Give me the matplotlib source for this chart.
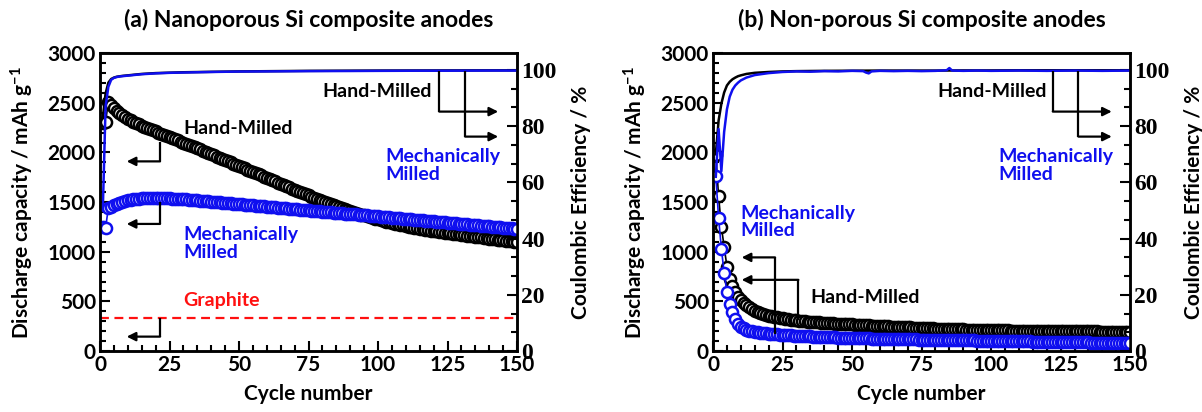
import matplotlib
matplotlib.use("Agg")
import matplotlib.pyplot as plt
from matplotlib.ticker import MultipleLocator, AutoMinorLocator

# ---- data ----
cycles = list(range(1, 151))

# (a) nanoporous Si, discharge capacity (mAh/g)
cap_hand_a = [2300, 2310, 2510, 2480, 2450, 2420, 2395, 2375, 2355, 2340,
              2325, 2310, 2296, 2283, 2270, 2258, 2246, 2234, 2222, 2211,
              2200, 2189, 2178, 2167, 2156, 2145, 2133, 2122, 2110, 2099,
              2087, 2076, 2064, 2053, 2041, 2030, 2018, 2006, 1995, 1983,
              1971, 1959, 1947, 1936, 1924, 1912, 1900, 1888, 1876, 1864,
              1852, 1840, 1828, 1816, 1804, 1792, 1780, 1768, 1756, 1744,
              1732, 1720, 1708, 1696, 1684, 1672, 1660, 1648, 1636, 1624,
              1613, 1601, 1589, 1578, 1567, 1556, 1545, 1534, 1523, 1512,
              1501, 1491, 1480, 1470, 1460, 1450, 1440, 1430, 1420, 1410,
              1401, 1392, 1383, 1374, 1365, 1357, 1349, 1341, 1333, 1325,
              1318, 1311, 1304, 1297, 1290, 1284, 1278, 1272, 1266, 1260,
              1254, 1248, 1243, 1238, 1233, 1228, 1223, 1218, 1213, 1208,
              1204, 1200, 1196, 1192, 1188, 1184, 1180, 1177, 1174, 1170,
              1166, 1162, 1158, 1155, 1151, 1147, 1144, 1140, 1137, 1133,
              1130, 1126, 1123, 1119, 1116, 1112, 1109, 1105, 1102, 1098]
cap_mech_a = [1250, 1240, 1440, 1455, 1470, 1482, 1493, 1502, 1510, 1517,
              1523, 1528, 1532, 1535, 1537, 1539, 1540, 1541, 1541, 1541,
              1540, 1540, 1539, 1538, 1537, 1536, 1534, 1533, 1531, 1530,
              1528, 1525, 1522, 1520, 1518, 1515, 1512, 1510, 1508, 1505,
              1502, 1500, 1498, 1495, 1492, 1490, 1488, 1485, 1482, 1480,
              1478, 1475, 1472, 1470, 1468, 1465, 1462, 1460, 1458, 1455,
              1452, 1450, 1448, 1445, 1442, 1440, 1438, 1435, 1432, 1430,
              1428, 1425, 1422, 1420, 1418, 1415, 1412, 1410, 1408, 1405,
              1402, 1400, 1398, 1395, 1392, 1390, 1388, 1385, 1382, 1380,
              1378, 1375, 1372, 1370, 1368, 1365, 1362, 1360, 1358, 1355,
              1352, 1350, 1348, 1345, 1342, 1340, 1338, 1335, 1332, 1330,
              1328, 1325, 1322, 1320, 1318, 1315, 1312, 1310, 1308, 1305,
              1302, 1300, 1298, 1295, 1292, 1290, 1288, 1285, 1282, 1280,
              1278, 1275, 1272, 1270, 1268, 1265, 1262, 1260, 1258, 1255,
              1252, 1250, 1248, 1245, 1242, 1240, 1238, 1235, 1232, 1230]
graphite_capacity = 335

# (a) coulombic efficiency (%)
ce_hand_a_cyc = [1, 2, 3, 4, 5, 6, 8, 10, 15, 20, 30, 50, 75, 100, 125, 150]
ce_hand_a = [83, 91.6, 95.5, 96.8, 97.3, 97.6, 97.9, 98.1, 98.6, 98.9,
             99.2, 99.5, 99.7, 99.8, 99.85, 99.9]
ce_mech_a_cyc = [1, 2, 3, 4, 5, 6, 7, 8, 10, 12, 15, 20, 25, 30, 40, 50,
                 60, 75, 90, 100, 115, 125, 140, 150]
ce_mech_a = [50, 87, 94, 96.5, 97.2, 97.5, 97.7, 97.8, 98.0, 98.2, 98.5,
             98.8, 99.0, 99.1, 99.3, 99.45, 99.5, 99.6, 99.65, 99.7, 99.75,
             99.75, 99.8, 99.8]

# (b) non-porous Si, discharge capacity (mAh/g)
cap_hand_b = [1970, 1560, 1250, 1050, 850, 730, 650, 590, 545, 510,
              482, 460, 440, 423, 408, 395, 384, 374, 365, 357,
              350, 344, 338, 333, 328, 323, 319, 315, 311, 308,
              305, 302, 299, 297, 295, 293, 291, 289, 287, 285,
              283, 281, 279, 277, 276, 274, 273, 271, 270, 268,
              266, 264, 263, 261, 259, 258, 256, 255, 253, 252,
              250, 249, 247, 246, 245, 243, 242, 241, 239, 238,
              237, 236, 235, 233, 232, 231, 230, 229, 227, 226,
              225, 224, 223, 222, 221, 220, 219, 219, 218, 217,
              216, 215, 215, 214, 213, 212, 212, 211, 210, 210,
              209, 209, 208, 208, 207, 207, 206, 206, 205, 205,
              205, 204, 204, 203, 203, 203, 202, 202, 201, 201,
              201, 200, 200, 200, 200, 199, 199, 199, 199, 198,
              198, 198, 198, 197, 197, 197, 197, 197, 196, 196,
              196, 196, 196, 195, 195, 195, 195, 195, 195, 195]
cap_mech_b = [1760, 1340, 1030, 790, 590, 470, 390, 320, 275, 245,
              228, 215, 205, 198, 192, 187, 183, 180, 177, 174,
              171, 169, 167, 165, 163, 161, 159, 157, 155, 153,
              152, 151, 149, 148, 147, 146, 145, 143, 142, 141,
              140, 139, 138, 137, 136, 135, 134, 133, 132, 131,
              130, 130, 129, 128, 128, 127, 126, 126, 125, 124,
              124, 123, 123, 122, 121, 121, 120, 120, 119, 118,
              118, 117, 117, 116, 116, 115, 115, 114, 114, 113,
              113, 112, 112, 111, 111, 110, 110, 109, 109, 108,
              107, 107, 106, 106, 105, 105, 104, 104, 103, 103,
              102, 102, 101, 101, 100, 100, 99, 99, 98, 98,
              97, 97, 96, 96, 95, 95, 94, 94, 93, 93,
              92, 92, 91, 91, 90, 90, 90, 89, 89, 88,
              88, 87, 87, 86, 86, 85, 85, 84, 84, 84,
              83, 83, 82, 82, 81, 81, 81, 80, 80, 80]

# (b) coulombic efficiency (%)
ce_hand_b_cyc = [1, 2, 3, 4, 5, 6, 7, 8, 9, 10, 12, 15, 20, 25, 30, 40, 50,
                 60, 70, 80, 90, 100, 110, 120, 130, 140, 150]
ce_hand_b = [70, 82, 88, 92, 94.5, 95.8, 96.7, 97.3, 97.8, 98.1, 98.6,
             99.0, 99.3, 99.5, 99.6, 99.7, 99.75, 99.8, 99.8, 99.8, 99.85,
             99.85, 99.9, 99.9, 99.9, 99.9, 99.9]
ce_mech_b_cyc = [1, 2, 3, 4, 5, 6, 7, 8, 9, 10, 12, 15, 20, 25, 30, 35, 40,
                 45, 50, 54, 55, 56, 57, 60, 65, 70, 75, 80, 84, 85, 86, 90,
                 95, 100, 110, 120, 130, 140, 150]
ce_mech_b = [62, 79, 64, 78, 86, 90.5, 93, 94.5, 95.5, 96.3, 97.3, 98.2,
             98.9, 99.3, 99.5, 99.4, 99.6, 99.5, 99.7, 99.6, 99.1, 98.8,
             99.5, 99.7, 99.6, 99.7, 99.6, 99.7, 99.9, 100.7, 99.8, 99.7,
             99.8, 99.7, 99.8, 99.7, 99.8, 99.7, 99.8]

BLUE = "#0f0fef"
RED = "#ff1010"

plt.rcParams["font.family"] = ["Lato", "DejaVu Sans"]
plt.rcParams["font.weight"] = "bold"
plt.rcParams["mathtext.fontset"] = "custom"
plt.rcParams["mathtext.bf"] = "Lato:bold"
plt.rcParams["mathtext.rm"] = "Lato:bold"
plt.rcParams["mathtext.default"] = "bf"

fig = plt.figure(figsize=(12.02, 4.12), dpi=100)
ax_a = fig.add_axes([0.0832, 0.148, 0.347, 0.723])
ax_b = fig.add_axes([0.5932, 0.148, 0.347, 0.723])


def style_axes(ax, title):
    ax2 = ax.twinx()
    ax.set_xlim(0, 150)
    ax.set_ylim(0, 3000)
    ax2.set_ylim(0, 106)
    ax.xaxis.set_major_locator(MultipleLocator(25))
    ax.xaxis.set_minor_locator(MultipleLocator(5))
    ax.yaxis.set_major_locator(MultipleLocator(500))
    ax.yaxis.set_minor_locator(MultipleLocator(100))
    ax2.yaxis.set_major_locator(MultipleLocator(20))
    ax2.yaxis.set_minor_locator(AutoMinorLocator(3))
    for a in (ax, ax2):
        a.tick_params(which="both", direction="in", width=1.5, pad=3)
        a.tick_params(which="major", length=7)
        a.tick_params(which="minor", length=4)
        for s in a.spines.values():
            s.set_linewidth(1.8)
    ax.tick_params(labelsize=15, top=False, right=False)
    ax2.tick_params(labelsize=17)
    for lbl in ax.get_xticklabels() + ax.get_yticklabels():
        lbl.set_fontweight("bold")
    for lbl in ax2.get_yticklabels():
        lbl.set_fontfamily("Liberation Serif")
        lbl.set_fontweight("bold")
    ax.set_xlabel("Cycle number", fontsize=15, fontweight="bold", labelpad=6)
    ax.set_ylabel(r"Discharge capacity / mAh g$^{-1}$", fontsize=15,
                  fontweight="bold", labelpad=8)
    ax2.set_ylabel("Coulombic Efficiency / %", fontsize=15,
                   fontweight="bold", labelpad=10)
    ax.set_title(title, fontsize=16.5, fontweight="bold", pad=19)
    return ax2


def bracket(ax, x_v, y_from, y_to, x_tip):
    ax.plot([x_v, x_v], [y_from, y_to], color="k", lw=1.6,
            solid_capstyle="butt", zorder=4)
    ax.annotate("", xy=(x_tip, y_to), xytext=(x_v, y_to),
                arrowprops=dict(arrowstyle="-|>", color="k", lw=1.6,
                                mutation_scale=13, shrinkA=0, shrinkB=0),
                zorder=4)


mk = dict(marker="o", markersize=8, markeredgewidth=1.8,
          markerfacecolor="white", linewidth=1.2)

# ---- panel (a) ----
ax2_a = style_axes(ax_a, "(a) Nanoporous Si composite anodes")
ax_a.plot(cycles, cap_hand_a, color="k", markeredgecolor="k", zorder=2, **mk)
ax_a.plot(cycles, cap_mech_a, color=BLUE, markeredgecolor=BLUE, zorder=3, **mk)
ax_a.axhline(graphite_capacity, color=RED, lw=1.6, ls=(0, (4, 2.5)))
ax2_a.plot(ce_hand_a_cyc, ce_hand_a, color="k", lw=1.8)
ax2_a.plot(ce_mech_a_cyc, ce_mech_a, color=BLUE, lw=1.8)

bracket(ax_a, 21.6, 2110, 1910, 9.6)
bracket(ax_a, 21.6, 1500, 1280, 9.6)
bracket(ax_a, 21.6, graphite_capacity, 145, 9.6)
bracket(ax2_a, 122, 99.7, 85.2, 143.2)
bracket(ax2_a, 131.3, 99.7, 76.3, 143.2)

ax_a.text(29.9, 2237, "Hand-Milled", fontsize=14, fontweight="bold",
          color="k", ha="left", va="center")
ax_a.text(29.9, 1085, "Mechanically\nMilled", fontsize=14, fontweight="bold",
          color=BLUE, ha="left", va="center", linespacing=1.05)
ax_a.text(29.9, 510, "Graphite", fontsize=14, fontweight="bold",
          color=RED, ha="left", va="center")
ax2_a.text(119.4, 92.2, "Hand-Milled", fontsize=14, fontweight="bold",
           color="k", ha="right", va="center")
ax2_a.text(102.5, 65.9, "Mechanically\nMilled", fontsize=14,
           fontweight="bold", color=BLUE, ha="left", va="center",
           linespacing=1.05)

# ---- panel (b) ----
ax2_b = style_axes(ax_b, "(b) Non-porous Si composite anodes")
ax_b.plot(cycles, cap_hand_b, color="k", markeredgecolor="k", zorder=2, **mk)
ax_b.plot(cycles, cap_mech_b, color=BLUE, markeredgecolor=BLUE, zorder=3, **mk)
ax2_b.plot(ce_hand_b_cyc, ce_hand_b, color="k", lw=1.8)
ax2_b.plot(ce_mech_b_cyc, ce_mech_b, color=BLUE, lw=1.8)

bracket(ax_b, 22.3, 170, 943, 10.3)
bracket(ax_b, 30.7, 310, 717, 10.3)
bracket(ax2_b, 122.2, 99.8, 85.2, 143.4)
bracket(ax2_b, 131.4, 99.8, 76.3, 143.4)

ax_b.text(9.7, 1300, "Mechanically\nMilled", fontsize=14, fontweight="bold",
          color=BLUE, ha="left", va="center", linespacing=1.05)
ax_b.text(34.9, 540, "Hand-Milled", fontsize=14, fontweight="bold",
          color="k", ha="left", va="center")
ax2_b.text(120, 92.2, "Hand-Milled", fontsize=14, fontweight="bold",
           color="k", ha="right", va="center")
ax2_b.text(102.6, 65.9, "Mechanically\nMilled", fontsize=14,
           fontweight="bold", color=BLUE, ha="left", va="center",
           linespacing=1.05)

fig.savefig("out.png", dpi=100)
